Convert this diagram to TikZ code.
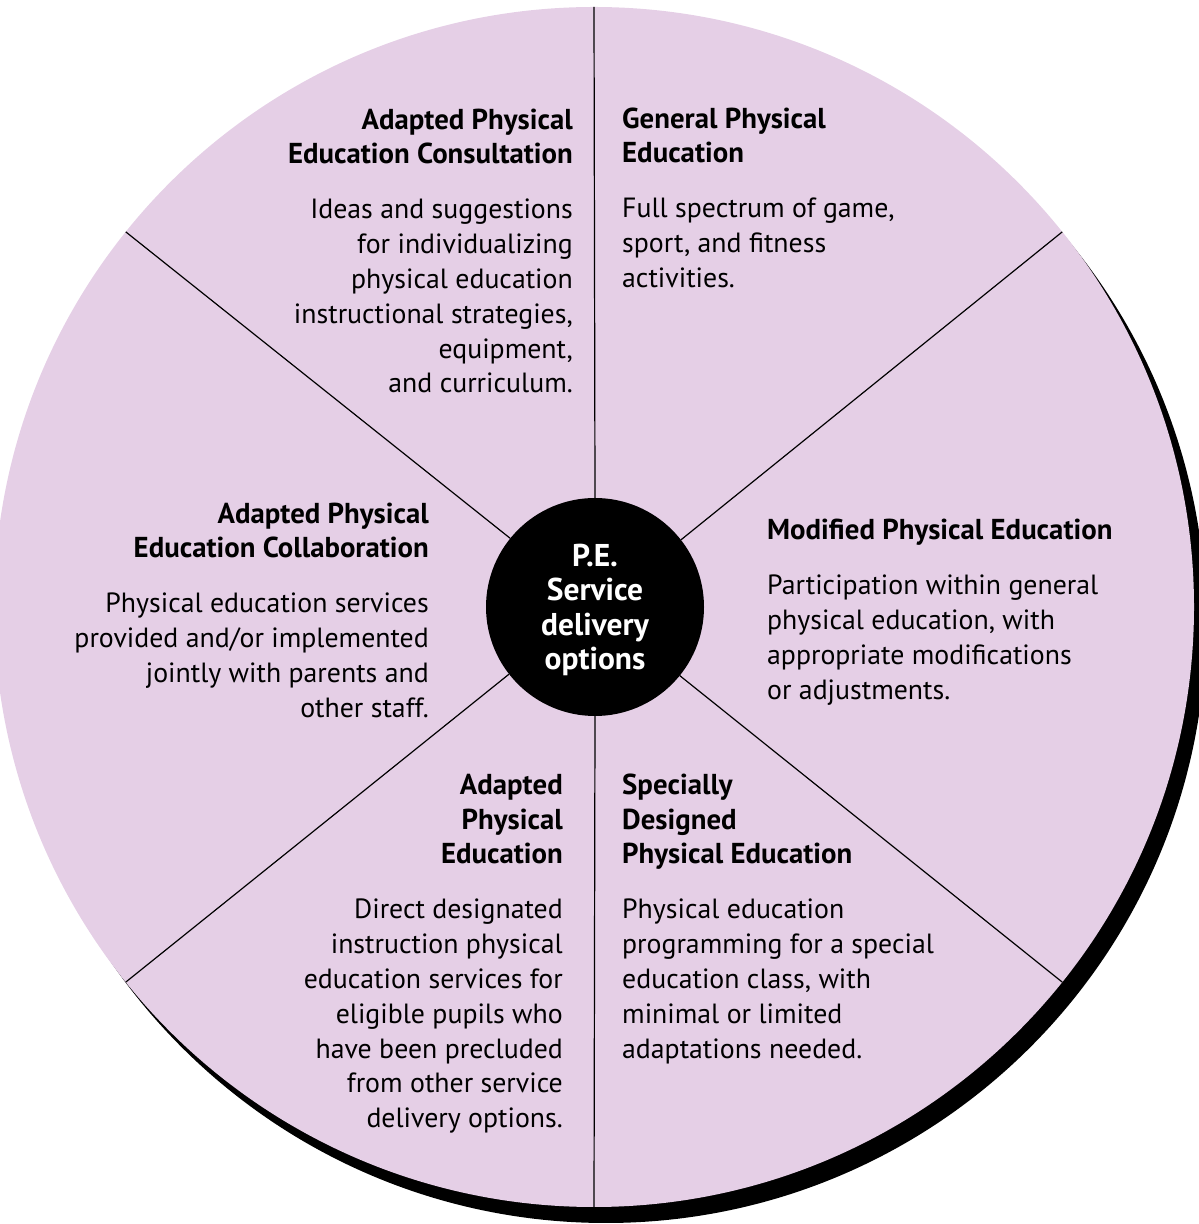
\documentclass[tikz,border=0pt]{standalone}
\usepackage{fontspec}
\setmainfont{PT Sans}
\usepackage{xcolor}
\usepackage{tikz}
\definecolor{wheelpink}{RGB}{229,207,230}

\begin{document}
\begin{tikzpicture}[x=1pt, y=1pt]
    % Define the style for the nodes
    \tikzstyle{hub} = [circle, fill=black, text=white, minimum size=218pt, inner sep=0pt, align=center, text depth=0pt, font=\bfseries\fontsize{31.5}{34.5}\selectfont]
    \tikzstyle{head} = [inner sep=0pt, font=\bfseries\fontsize{28.8}{34.8}\selectfont]
    \tikzstyle{desc} = [inner sep=0pt, font=\fontsize{27.8}{34.8}\selectfont]
    \tikzstyle{spoke} = [draw, line width=1.2pt]

    \useasboundingbox (0,0) rectangle (1199,1224);
    \clip (0,0) rectangle (1199,1224);

    % The wheel and its shadow
    \coordinate (centre) at (594,617);
    \fill[black] ([shift={(12,-16)}]centre) circle (600);
    \fill[wheelpink] (centre) circle (600);

    % Place the nodes (base = last line)
    \node [hub] (hub) at (595,617) {P.E.\\Service\\delivery\\options};

    \foreach \a in {90,38.7,141.3,218.7,270,321.3}
        \path [spoke] (hub.\a) -- ([shift={(\a:600)}]centre);

    \node [head, align=right, anchor=base east] (consult) at (573,1060) {Adapted Physical\\Education Consultation};
    \node [desc, align=right, anchor=base east] (consultdesc) at ([yshift=-229pt]consult.base east) {Ideas and suggestions\\for individualizing\\physical education\\instructional strategies,\\equipment,\\and curriculum.};

    \node [head, align=left, anchor=base west] (general) at (622,1061) {General Physical\\Education};
    \node [desc, align=left, anchor=base west] (generaldesc) at ([yshift=-124.6pt]general.base west) {Full spectrum of game,\\sport, and fitness\\activities.};

    \node [head, align=right, anchor=base east] (collab) at (429,666) {Adapted Physical\\Education Collaboration};
    \node [desc, align=right, anchor=base east] (collabdesc) at ([yshift=-159.4pt]collab.base east) {Physical education services\\provided and/or implemented\\jointly with parents and\\other staff.};

    \node [head, align=left, anchor=base west] (modified) at (767,684) {Modified Physical Education};
    \node [desc, align=left, anchor=base west] (modifieddesc) at ([yshift=-159.4pt]modified.base west) {Participation within general\\physical education, with\\appropriate modifications\\or adjustments.};

    \node [head, align=right, anchor=base east] (adapted) at (563,360) {Adapted\\Physical\\Education};
    \node [desc, align=right, anchor=base east] (adapteddesc) at ([yshift=-263.8pt]adapted.base east) {Direct designated\\instruction physical\\education services for\\eligible pupils who\\have been precluded\\from other service\\delivery options.};

    \node [head, align=left, anchor=base west] (special) at (622,360) {Specially\\Designed\\Physical Education};
    \node [desc, align=left, anchor=base west] (specialdesc) at ([yshift=-194.2pt]special.base west) {Physical education\\programming for a special\\education class, with\\minimal or limited\\adaptations needed.};

\end{tikzpicture}
\end{document}
